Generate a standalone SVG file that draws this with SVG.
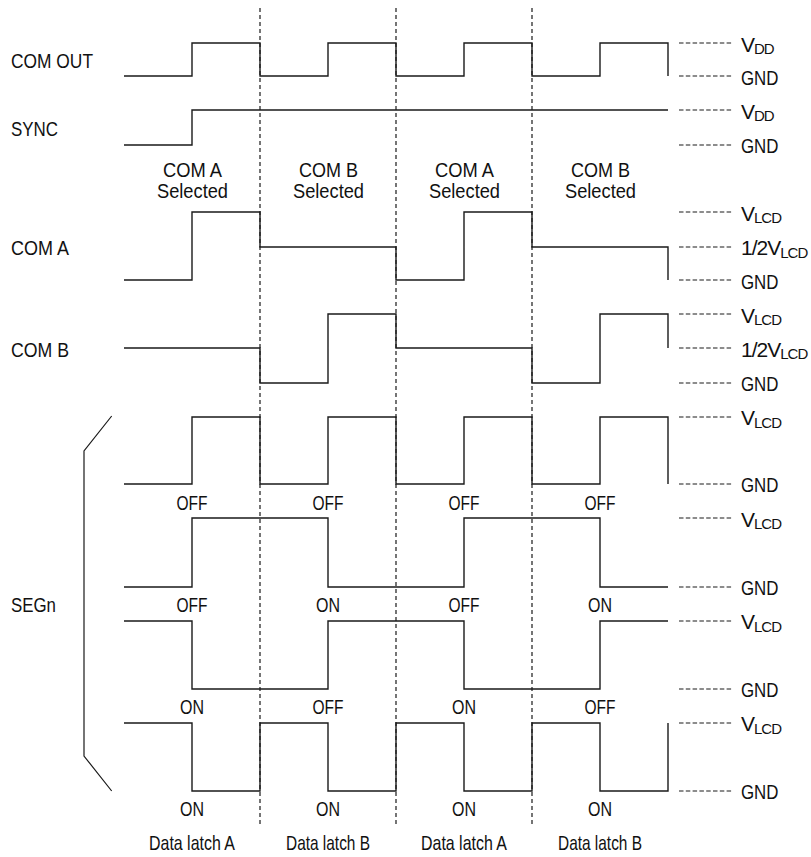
<svg xmlns="http://www.w3.org/2000/svg" width="811" height="857" viewBox="0 0 811 857">
<style>
.w{fill:none;stroke:#1a1a1a;stroke-width:1.4;stroke-linejoin:miter}
.g{fill:none;stroke:#1a1a1a;stroke-width:1.2;stroke-dasharray:4 3}
.r{fill:none;stroke:#1a1a1a;stroke-width:1.1;stroke-dasharray:4.5 2.3}
text{font-family:"Liberation Sans",Arial,sans-serif;font-size:21px;fill:#111}
.c{text-anchor:middle}
.v{letter-spacing:-1px}
.s{font-size:15px}
</style>
<rect width="811" height="857" fill="#fff"/>
<g id="connectors">
<path class="g" d="M260,8V824M396,8V824M532,8V824"/>
<path class="r" d="M679,43H733M679,76H733M679,110H733M679,145H733M679,212H733M679,247H733M679,280H733M679,314H733M679,348H733M679,383H733M679,417H733M679,484H733M679,518H733M679,587H733M679,621H733M679,689H733M679,723H733M679,791H733"/>
</g>
<g id="com-out"><path class="w" d="M124,76H192V43H260V76H328V43H396V76H464V43H532V76H600V43H668V76"/><text x="11" y="68" textLength="82" lengthAdjust="spacingAndGlyphs">COM OUT</text></g>
<g id="sync"><path class="w" d="M124,145H192V110H668"/><text x="11" y="136" textLength="47" lengthAdjust="spacingAndGlyphs">SYNC</text></g>
<g id="selection">
<text class="c" x="192.5" y="177" textLength="59" lengthAdjust="spacingAndGlyphs">COM A</text><text class="c" x="192.5" y="198" textLength="71" lengthAdjust="spacingAndGlyphs">Selected</text>
<text class="c" x="328.5" y="177" textLength="59" lengthAdjust="spacingAndGlyphs">COM B</text><text class="c" x="328.5" y="198" textLength="71" lengthAdjust="spacingAndGlyphs">Selected</text>
<text class="c" x="464.5" y="177" textLength="59" lengthAdjust="spacingAndGlyphs">COM A</text><text class="c" x="464.5" y="198" textLength="71" lengthAdjust="spacingAndGlyphs">Selected</text>
<text class="c" x="600.5" y="177" textLength="59" lengthAdjust="spacingAndGlyphs">COM B</text><text class="c" x="600.5" y="198" textLength="71" lengthAdjust="spacingAndGlyphs">Selected</text>
</g>
<g id="com-a"><path class="w" d="M124,280H192V212H260V247H396V280H464V212H532V247H668V280"/><text x="11" y="255" textLength="58" lengthAdjust="spacingAndGlyphs">COM A</text></g>
<g id="com-b"><path class="w" d="M124,348H260V383H328V314H396V348H532V383H600V314H668V348"/><text x="11" y="357" textLength="58" lengthAdjust="spacingAndGlyphs">COM B</text></g>
<g id="segn">
<path class="w" d="M111.7,416L84,451V756L111.7,791" style="stroke-width:1.2"/>
<text x="11" y="612" textLength="45" lengthAdjust="spacingAndGlyphs">SEGn</text>
</g>
<g id="seg1"><path class="w" d="M124,484H192V417H260V484H328V417H396V484H464V417H532V484H600V417H668V484"/>
<text class="c" x="192" y="510" textLength="31" lengthAdjust="spacingAndGlyphs">OFF</text><text class="c" x="328" y="510" textLength="31" lengthAdjust="spacingAndGlyphs">OFF</text><text class="c" x="464" y="510" textLength="31" lengthAdjust="spacingAndGlyphs">OFF</text><text class="c" x="600" y="510" textLength="31" lengthAdjust="spacingAndGlyphs">OFF</text></g>
<g id="seg2"><path class="w" d="M124,587H192V518H328V587H464V518H600V587H668"/>
<text class="c" x="192" y="612" textLength="31" lengthAdjust="spacingAndGlyphs">OFF</text><text class="c" x="328" y="612" textLength="24" lengthAdjust="spacingAndGlyphs">ON</text><text class="c" x="464" y="612" textLength="31" lengthAdjust="spacingAndGlyphs">OFF</text><text class="c" x="600" y="612" textLength="24" lengthAdjust="spacingAndGlyphs">ON</text></g>
<g id="seg3"><path class="w" d="M124,621H192V689H328V621H464V689H600V621H668"/>
<text class="c" x="192" y="714" textLength="24" lengthAdjust="spacingAndGlyphs">ON</text><text class="c" x="328" y="714" textLength="31" lengthAdjust="spacingAndGlyphs">OFF</text><text class="c" x="464" y="714" textLength="24" lengthAdjust="spacingAndGlyphs">ON</text><text class="c" x="600" y="714" textLength="31" lengthAdjust="spacingAndGlyphs">OFF</text></g>
<g id="seg4"><path class="w" d="M124,723H192V791H260V723H328V791H396V723H464V791H532V723H600V791H668V723"/>
<text class="c" x="192" y="816" textLength="24" lengthAdjust="spacingAndGlyphs">ON</text><text class="c" x="328" y="816" textLength="24" lengthAdjust="spacingAndGlyphs">ON</text><text class="c" x="464" y="816" textLength="24" lengthAdjust="spacingAndGlyphs">ON</text><text class="c" x="600" y="816" textLength="24" lengthAdjust="spacingAndGlyphs">ON</text></g>
<g id="latches">
<text class="c" x="192" y="850" textLength="86" lengthAdjust="spacingAndGlyphs">Data latch A</text>
<text class="c" x="328" y="850" textLength="84" lengthAdjust="spacingAndGlyphs">Data latch B</text>
<text class="c" x="464" y="850" textLength="86" lengthAdjust="spacingAndGlyphs">Data latch A</text>
<text class="c" x="600" y="850" textLength="84" lengthAdjust="spacingAndGlyphs">Data latch B</text>
</g>
<g id="levels">
<text class="v" x="741" y="51.5">V<tspan class="s" dy="2.5">DD</tspan></text>
<text x="741" y="84.5" textLength="37.5" lengthAdjust="spacingAndGlyphs">GND</text>
<text class="v" x="741" y="118.5">V<tspan class="s" dy="2.5">DD</tspan></text>
<text x="741" y="153" textLength="37.5" lengthAdjust="spacingAndGlyphs">GND</text>
<text class="v" x="741" y="220.5">V<tspan class="s" dy="2.5">LCD</tspan></text>
<text class="v" x="741" y="255">1/2V<tspan class="s" dy="2.5">LCD</tspan></text>
<text x="741" y="288.5" textLength="37.5" lengthAdjust="spacingAndGlyphs">GND</text>
<text class="v" x="741" y="322.5">V<tspan class="s" dy="2.5">LCD</tspan></text>
<text class="v" x="741" y="356.5">1/2V<tspan class="s" dy="2.5">LCD</tspan></text>
<text x="741" y="391" textLength="37.5" lengthAdjust="spacingAndGlyphs">GND</text>
<text class="v" x="741" y="425">V<tspan class="s" dy="2.5">LCD</tspan></text>
<text x="741" y="492" textLength="37.5" lengthAdjust="spacingAndGlyphs">GND</text>
<text class="v" x="741" y="526.5">V<tspan class="s" dy="2.5">LCD</tspan></text>
<text x="741" y="595" textLength="37.5" lengthAdjust="spacingAndGlyphs">GND</text>
<text class="v" x="741" y="629">V<tspan class="s" dy="2.5">LCD</tspan></text>
<text x="741" y="697" textLength="37.5" lengthAdjust="spacingAndGlyphs">GND</text>
<text class="v" x="741" y="731">V<tspan class="s" dy="2.5">LCD</tspan></text>
<text x="741" y="799" textLength="37.5" lengthAdjust="spacingAndGlyphs">GND</text>
</g>
</svg>
